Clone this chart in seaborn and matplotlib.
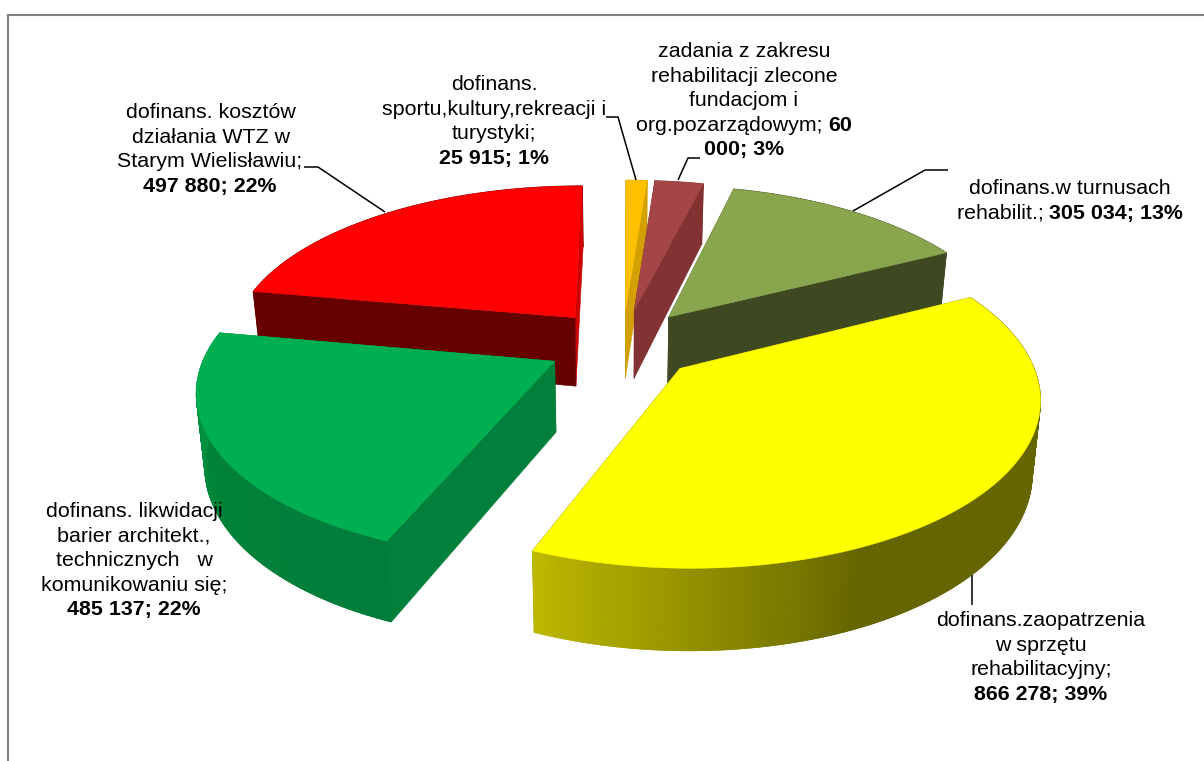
import numpy as np
import seaborn as sns
import matplotlib.pyplot as plt
from matplotlib.collections import LineCollection
from matplotlib.patches import Polygon

# kolejnosc zgodnie z ruchem wskazowek zegara
categories = ['turnusy', 'sprzet', 'bariery', 'WTZ', 'sport', 'zadania']
values = [305034, 866278, 485137, 497880, 25915, 60000]

top_colors = ['#89A54E', '#FFFF00', '#00B050', '#FF0000', '#FFC000', '#A54646']
start_wall = ['#3E4821', '#666600', '#00803A', '#660000', '#D2A000', '#823232']
end_wall = ['#3E4821', '#666600', '#00803A', '#CC0000', '#D2A000', '#823232']
arc_stops = [
    ['#3E4821', '#3E4821'],
    ['#666600', '#666600', '#666600', '#BEB900'],
    ['#007D3A', '#008239', '#009B44'],
    ['#660000', '#660000'],
    ['#D2A000', '#D2A000'],
    ['#823232', '#823232'],
]

# (wiersz, czy pogrubiony) - srodek x, y pierwszego wiersza
labels_red = [[('dofinans. kosztów', False)], [('działania WTZ w', False)],
              [('Starym Wielisławiu;', False)], [('497 880; 22%', True)]]
labels_orange = [[('dofinans.', False)], [('sportu,kultury,rekreacji i', False)],
                 [('turystyki;', False)], [('25 915; 1%', True)]]
labels_brown = [[('zadania z zakresu', False)], [('rehabilitacji zlecone', False)],
                [('fundacjom i', False)], [('org.pozarządowym; ', False), ('60', True)],
                [('000; 3%', True)]]
labels_olive = [[('dofinans.w turnusach', False)],
                [('rehabilit.; ', False), ('305 034; 13%', True)]]
labels_yellow = [[('dofinans.zaopatrzenia', False)], [('w sprzętu', False)],
                 [('rehabilitacyjny;', False)], [('866 278; 39%', True)]]
labels_green = [[('dofinans. likwidacji', False)], [('barier architekt.,', False)],
                [('technicznych   w', False)], [('komunikowaniu się;', False)],
                [('485 137; 22%', True)]]

START_ANGLE = 14
EXPLODE = 0.22
CX, CY = 622.5, 344
R, RY = 346, 160
PERSP = 0.157
H = 70
H_PERSP = 0.13
BOTTOM_SHRINK = 0.98
FONT_SIZE = 15.4


def project(x, y, bottom=False):
    scale = 1 / (1 + PERSP * y)
    sx = CX + R * x * scale
    sy = CY - RY * y * scale
    if bottom:
        sx = CX + (sx - CX) * BOTTOM_SHRINK
        sy = sy + H / (1 + H_PERSP * y)
    return sx, sy


def draw_wedge(ax, a0, a1, top, wall0, wall1, stops):
    mid = np.radians((a0 + a1) / 2)
    ox, oy = EXPLODE * np.sin(mid), EXPLODE * np.cos(mid)
    angles = np.radians(np.linspace(a0, a1, max(int(a1 - a0) + 2, 3)))
    px = ox + np.sin(angles)
    py = oy + np.cos(angles)

    # luk z tylu rysowany najpierw, luk z przodu na koncu
    arc_depth = py.max() if py.mean() > 0 else py.min()
    faces = [(arc_depth, None, None)]
    for k, col in ((0, wall0), (-1, wall1)):
        quad = [project(ox, oy), project(px[k], py[k]),
                project(px[k], py[k], True), project(ox, oy, True)]
        faces.append(((oy + py[k]) / 2, quad, col))

    for _, quad, col in sorted(faces, key=lambda f: -f[0]):
        if col is None:
            # sciana boczna z gradientem
            tx, ty = project(px, py)
            bx, by = project(px, py, True)
            shade = np.linspace(0, 1, len(px))
            cmap = sns.blend_palette(stops, as_cmap=True)
            ax.pcolormesh(np.vstack([tx, bx]), np.vstack([ty, by]), np.vstack([shade, shade]),
                          cmap=cmap, vmin=0, vmax=1, shading='gouraud')
            # dolna krawedz wygladzona
            pts = np.column_stack([bx, by])
            segs = np.stack([pts[:-1], pts[1:]], axis=1)
            ax.add_collection(LineCollection(segs, colors=cmap(shade[:-1]), linewidths=0.8, zorder=1))
        else:
            ax.add_patch(Polygon(quad, closed=True, facecolor=col, edgecolor=col, linewidth=0.4))

    outline = [project(ox, oy)] + [project(a, b) for a, b in zip(px, py)]
    ax.add_patch(Polygon(outline, closed=True, facecolor=top, edgecolor=top, linewidth=0.3, zorder=2))


def draw_label(ax, lines, cx, y0, step=24.5):
    renderer = ax.figure.canvas.get_renderer()
    for n, parts in enumerate(lines):
        pieces = []
        for txt, bold in parts:
            weight = 'bold' if bold else 'normal'
            t = ax.text(0, y0 + n * step + 6.5, txt, fontsize=FONT_SIZE, color='black', zorder=10,
                        fontweight=weight, ha='left', va='baseline')
            # spacje na koncu nie licza sie do szerokosci, stad mierzenie z kropka
            dot = ax.text(0, 0, '.', fontsize=FONT_SIZE, fontweight=weight)
            w_dot = dot.get_window_extent(renderer).width
            dot.set_text(txt + '.')
            w = dot.get_window_extent(renderer).width - w_dot
            dot.remove()
            pieces.append((t, w))
        total = sum(w for _, w in pieces)
        x = cx - total / 2
        for t, w in pieces:
            t.set_x(x)
            x += w


sns.set_theme(style='white')
plt.rcParams['font.family'] = ['Liberation Sans', 'DejaVu Sans']

fig = plt.figure(figsize=(12.04, 7.61), dpi=100)
ax = fig.add_axes([8 / 1204, 0, 1 - 8 / 1204, 1 - 15 / 761])
ax.set_xlim(8, 1204)
ax.set_ylim(761, 15)
ax.set_xticks([])
ax.set_yticks([])
sns.despine(ax=ax, top=False, right=True, left=False, bottom=True)
for side in ('left', 'top'):
    ax.spines[side].set_color('#808080')
    ax.spines[side].set_linewidth(1.5)

spans = np.array(values) / np.sum(values) * 360
edges = START_ANGLE + np.concatenate([[0], np.cumsum(spans)])
for i in [3, 4, 5, 0, 2, 1]:
    draw_wedge(ax, edges[i], edges[i + 1], top_colors[i], start_wall[i], end_wall[i], arc_stops[i])

# linie odniesienia
leader_lines = [
    ([304, 318, 385], [167, 167, 212]),
    ([606, 618, 636], [117, 117, 180]),
    ([678, 688, 700], [180, 158, 158]),
    ([853, 925, 948], [211, 170, 170]),
    ([972, 972], [575, 605]),
]
for xs, ys in leader_lines:
    ax.plot(xs, ys, color='black', lw=1.1, zorder=5, solid_capstyle='butt')

draw_label(ax, labels_red, 210, 112)
draw_label(ax, labels_orange, 494, 84)
draw_label(ax, labels_brown, 744, 51)
draw_label(ax, labels_olive, 1070, 188)
draw_label(ax, labels_yellow, 1041, 620)
draw_label(ax, labels_green, 134, 511)

fig.savefig('out.png', dpi=100, facecolor='white')
